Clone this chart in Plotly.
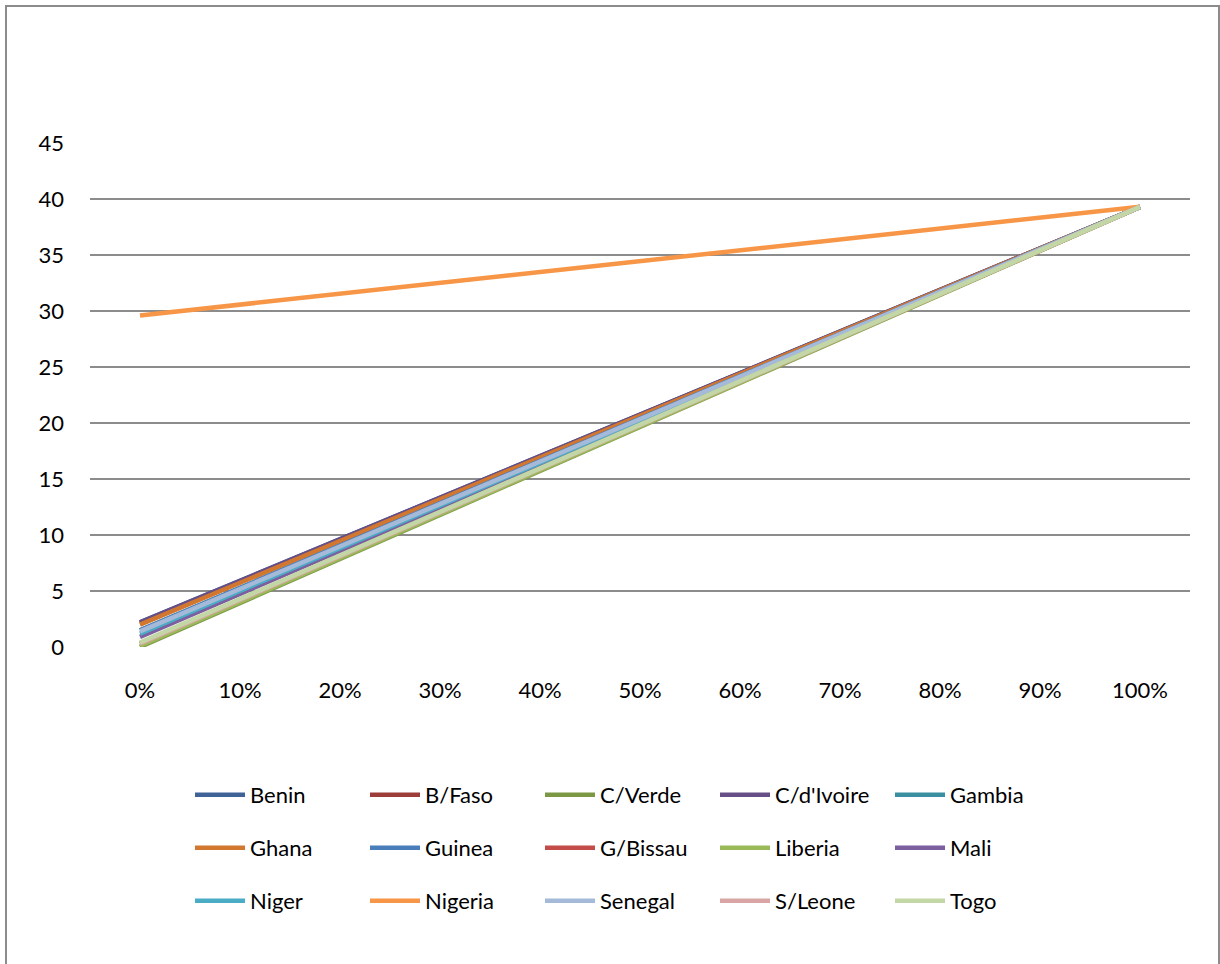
import plotly.graph_objects as go

tick_vals = [0, 10, 20, 30, 40, 50, 60, 70, 80, 90, 100]
tick_text = ["0%", "10%", "20%", "30%", "40%", "50%", "60%", "70%", "80%", "90%", "100%"]

x_points = [0, 100]

countries = ["Benin", "B/Faso", "C/Verde", "C/d'Ivoire", "Gambia",
             "Ghana", "Guinea", "G/Bissau", "Liberia", "Mali",
             "Niger", "Nigeria", "Senegal", "S/Leone", "Togo"]

start_values = [2.2, 2.1, 0.0, 2.2, 1.5,
                2.0, 1.5, 0.3, 0.1, 0.9,
                1.2, 29.6, 1.4, 0.3, 0.4]
end_values = [39.3] * 15

colors = ["#3F6297", "#9C3D3A", "#7D9845", "#664E86", "#3B8FA1",
          "#D27730", "#4A7EBB", "#C34C48", "#9ABA59", "#7D5FA0",
          "#4AACC5", "#F79646", "#A5B9D9", "#D9A5A4", "#C3D6A6"]

W, H = 1220, 964
L, R, T, B = 90, 30, 143, 317
pw, ph = W - L - R, H - T - B

legend_names = ["legend", "legend2", "legend3"]
row_centers = [795, 848, 901]

fig = go.Figure()
for i, (name, s, e, c) in enumerate(zip(countries, start_values, end_values, colors)):
    fig.add_trace(go.Scatter(x=x_points, y=[s, e], mode="lines", name=name,
                             legend=legend_names[i // 5],
                             line=dict(color=c, width=4.5)))

legend_common = dict(orientation="h", xanchor="left", yanchor="middle",
                     entrywidth=110, entrywidthmode="pixels", itemwidth=50,
                     font=dict(size=22), bgcolor="rgba(0,0,0,0)")

fig.update_layout(
    width=W, height=H,
    margin=dict(l=L, r=R, t=T, b=B),
    paper_bgcolor="white", plot_bgcolor="white",
    font=dict(family="Lato, Carlito, Calibri, sans-serif", size=22, color="black"),
    xaxis=dict(range=[-5, 105], tickvals=tick_vals, ticktext=tick_text,
               showgrid=False, zeroline=False, showline=False, ticks="",
               ticklabelstandoff=28, fixedrange=True),
    yaxis=dict(range=[0, 45], dtick=5, showgrid=True, gridcolor="#8C8C8C",
               gridwidth=1.5, zeroline=False, showline=False, ticks="",
               ticklabelstandoff=25, fixedrange=True),
    showlegend=True,
)
for ln, yc in zip(legend_names, row_centers):
    fig.update_layout({ln: dict(legend_common, x=(190 - L) / pw, y=(647 - yc) / ph)})

fig.add_shape(type="rect", xref="paper", yref="paper",
              x0=(6 - L) / pw, x1=(1219 - L) / pw,
              y0=(647 - 975) / ph, y1=(647 - 6) / ph,
              line=dict(color="#8C8C8C", width=2), fillcolor="rgba(0,0,0,0)",
              layer="below")

fig.write_html("out.html", config={"displayModeBar": False},
               post_script="document.body.style.margin='0';")
